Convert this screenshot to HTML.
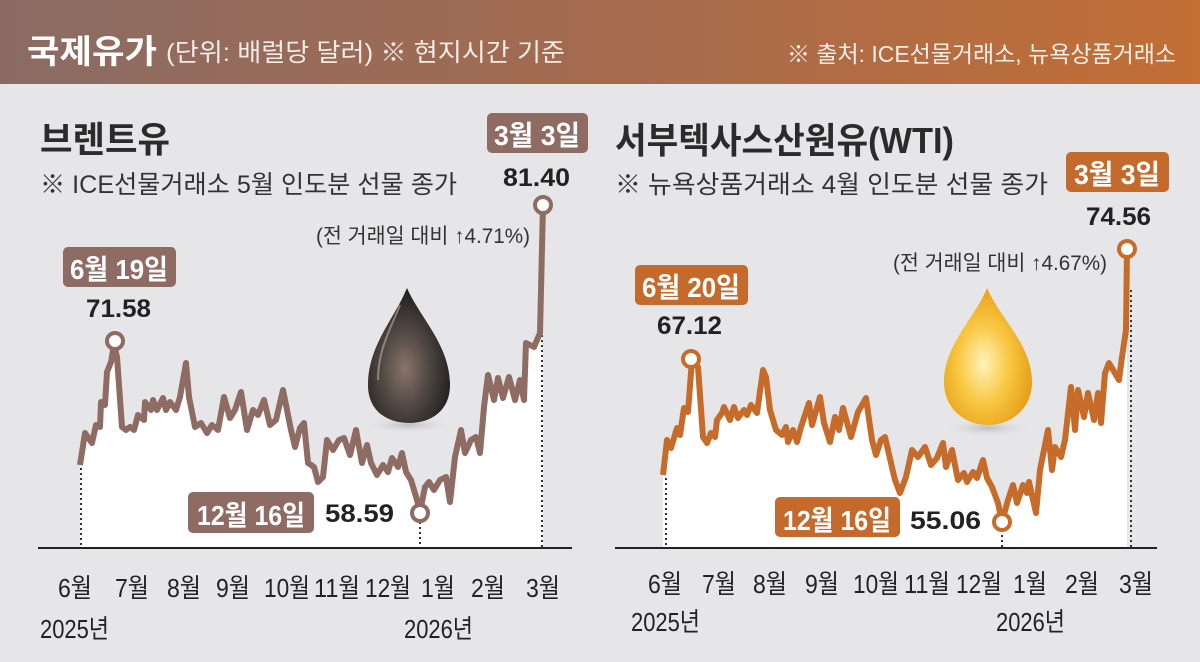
<!DOCTYPE html>
<html><head><meta charset="utf-8"><style>
html,body{margin:0;padding:0;background:#e6e6e8;}
svg{display:block;}
text{font-family:"Liberation Sans","Noto Sans CJK KR",sans-serif;}
</style></head><body>
<svg width="1200" height="662" viewBox="0 0 1200 662" xmlns="http://www.w3.org/2000/svg">
<defs>
<linearGradient id="hdr" x1="0" x2="1" y1="0" y2="0">
<stop offset="0" stop-color="#8a6b64"/><stop offset="0.5" stop-color="#a46b4f"/><stop offset="1" stop-color="#c26e35"/>
</linearGradient>
<radialGradient id="blk" cx="0.45" cy="0.6" r="0.6">
<stop offset="0" stop-color="#8a7468"/><stop offset="0.5" stop-color="#4e4642"/><stop offset="1" stop-color="#1f1d1c"/>
</radialGradient>
<radialGradient id="gld" cx="0.45" cy="0.55" r="0.6">
<stop offset="0" stop-color="#fff3b8"/><stop offset="0.5" stop-color="#f8c640"/><stop offset="1" stop-color="#e49a14"/>
</radialGradient>
<radialGradient id="shd" cx="0.5" cy="0.5" r="0.5">
<stop offset="0" stop-color="#bdbdc0"/><stop offset="1" stop-color="#e6e6e8" stop-opacity="0"/>
</radialGradient>
</defs>
<rect x="0" y="0" width="1200" height="84" fill="url(#hdr)"/>
<text x="27" y="63" font-size="33" font-weight="bold" fill="#fff" textLength="130" lengthAdjust="spacingAndGlyphs">국제유가</text>
<text x="166" y="61" font-size="25" fill="#f3ebe6" textLength="399" lengthAdjust="spacingAndGlyphs">(단위: 배럴당 달러) ※ 현지시간 기준</text>
<text x="787" y="62" font-size="23" fill="#f6eee8" textLength="389" lengthAdjust="spacingAndGlyphs">※ 출처:  ICE선물거래소, 뉴욕상품거래소</text>

<!-- LEFT -->
<text x="40" y="152" font-size="36" font-weight="bold" fill="#2b2b2b" textLength="130" lengthAdjust="spacingAndGlyphs">브렌트유</text>
<text x="40" y="193" font-size="25" fill="#333" textLength="417" lengthAdjust="spacingAndGlyphs">※ ICE선물거래소 5월 인도분 선물 종가</text>

<polygon fill="#fff" points="80,548 80,465 85,433 92,443 96,425 100,427 101,402 105,405 107,372 111,362 114,345 117,357 122,427 126,430 130,427 134,430 138,415 144,420 145,402 151,410 153,400 157,410 163,398 166,410 170,402 176,410 180,397 186,363 189,397 195,427 201,423 207,433 212,425 218,430 224,397 230,418 235,410 241,392 247,430 253,410 258,415 264,400 270,425 276,420 283,390 291,430 295,447 300,428 304,423 308,463 314,467 318,482 323,477 327,440 333,450 339,440 344,438 350,455 356,430 362,463 367,445 371,463 377,475 383,465 388,472 392,458 398,467 402,453 406,472 411,480 417,500 420,512 425,487 429,482 434,490 440,480 446,477 450,502 455,457 461,430 465,453 471,440 476,437 480,453 484,407 488,375 494,400 498,378 503,398 509,377 515,400 520,380 524,400 526,343 534,347 540,333 543,205 543,548"/>
<g stroke="#333" stroke-width="2" stroke-dasharray="2,3">
<line x1="81" y1="468" x2="81" y2="548"/><line x1="420" y1="522" x2="420" y2="548"/><line x1="542" y1="330" x2="542" y2="548"/>
</g>
<polyline fill="none" stroke="#8e6b63" stroke-width="6" stroke-linejoin="round" points="80,465 85,433 92,443 96,425 100,427 101,402 105,405 107,372 111,362 114,345 117,357 122,427 126,430 130,427 134,430 138,415 144,420 145,402 151,410 153,400 157,410 163,398 166,410 170,402 176,410 180,397 186,363 189,397 195,427 201,423 207,433 212,425 218,430 224,397 230,418 235,410 241,392 247,430 253,410 258,415 264,400 270,425 276,420 283,390 291,430 295,447 300,428 304,423 308,463 314,467 318,482 323,477 327,440 333,450 339,440 344,438 350,455 356,430 362,463 367,445 371,463 377,475 383,465 388,472 392,458 398,467 402,453 406,472 411,480 417,500 420,512 425,487 429,482 434,490 440,480 446,477 450,502 455,457 461,430 465,453 471,440 476,437 480,453 484,407 488,375 494,400 498,378 503,398 509,377 515,400 520,380 524,400 526,343 534,347 540,333 543,205"/>
<line x1="38" y1="548" x2="572" y2="548" stroke="#222" stroke-width="2"/>
<circle cx="115" cy="341" r="8" fill="#fff" stroke="#8e6b63" stroke-width="4"/>
<circle cx="420" cy="513" r="8" fill="#fff" stroke="#8e6b63" stroke-width="4"/>
<circle cx="543" cy="205" r="8" fill="#fff" stroke="#8e6b63" stroke-width="4"/>

<rect x="487" y="113" width="101" height="40" rx="5" fill="#8e6b63"/>
<text x="537" y="145" font-size="28" font-weight="bold" fill="#fff" text-anchor="middle" textLength="86" lengthAdjust="spacingAndGlyphs">3월 3일</text>
<text x="503" y="186" font-size="25" font-weight="bold" fill="#222" textLength="67" lengthAdjust="spacingAndGlyphs">81.40</text>
<text x="316" y="243" font-size="21" fill="#333" textLength="214" lengthAdjust="spacingAndGlyphs">(전 거래일 대비 ↑4.71%)</text>
<rect x="63" y="247" width="113" height="40" rx="5" fill="#8e6b63"/>
<text x="119" y="279" font-size="28" font-weight="bold" fill="#fff" text-anchor="middle" textLength="98" lengthAdjust="spacingAndGlyphs">6월 19일</text>
<text x="86" y="317" font-size="25" font-weight="bold" fill="#222" textLength="65" lengthAdjust="spacingAndGlyphs">71.58</text>
<rect x="188" y="492" width="126" height="41" rx="5" fill="#8e6b63"/>
<text x="251" y="525" font-size="28" font-weight="bold" fill="#fff" text-anchor="middle" textLength="108" lengthAdjust="spacingAndGlyphs">12월 16일</text>
<text x="325" y="522" font-size="25" font-weight="bold" fill="#222" textLength="69" lengthAdjust="spacingAndGlyphs">58.59</text>

<ellipse cx="408" cy="425" rx="45" ry="9" fill="url(#shd)"/>
<path d="M407,288 C395,318 368,345 368,385 C368,410 386,423 409,423 C432,423 450,410 450,385 C450,345 420,318 407,288 Z" fill="url(#blk)"/>
<path d="M400,305 C390,330 378,350 378,380" fill="none" stroke="#b8b0aa" stroke-width="2" opacity="0.6"/>

<g font-size="26" fill="#222" text-anchor="middle">
<text x="75" y="597" textLength="34" lengthAdjust="spacingAndGlyphs">6월</text><text x="132" y="597" textLength="34" lengthAdjust="spacingAndGlyphs">7월</text><text x="184" y="597" textLength="34" lengthAdjust="spacingAndGlyphs">8월</text><text x="233" y="597" textLength="34" lengthAdjust="spacingAndGlyphs">9월</text><text x="287" y="597" textLength="46" lengthAdjust="spacingAndGlyphs">10월</text><text x="337" y="597" textLength="46" lengthAdjust="spacingAndGlyphs">11월</text><text x="388" y="597" textLength="46" lengthAdjust="spacingAndGlyphs">12월</text><text x="438" y="597" textLength="34" lengthAdjust="spacingAndGlyphs">1월</text><text x="488" y="597" textLength="34" lengthAdjust="spacingAndGlyphs">2월</text><text x="543" y="597" textLength="34" lengthAdjust="spacingAndGlyphs">3월</text>
</g>
<text x="40" y="638" font-size="26" fill="#222" textLength="69" lengthAdjust="spacingAndGlyphs">2025년</text>
<text x="404" y="638" font-size="26" fill="#222" textLength="69" lengthAdjust="spacingAndGlyphs">2026년</text>

<!-- RIGHT -->
<text x="615" y="153" font-size="36" font-weight="bold" fill="#2b2b2b" textLength="339" lengthAdjust="spacingAndGlyphs">서부텍사스산원유(WTI)</text>
<text x="615" y="193" font-size="25" fill="#333" textLength="433" lengthAdjust="spacingAndGlyphs">※ 뉴욕상품거래소 4월 인도분 선물 종가</text>

<polygon fill="#fff" points="663,548 663,475 667,440 671,448 677,428 680,435 684,408 688,412 692,360 698,367 703,437 707,443 711,433 715,437 717,420 722,413 724,407 730,420 734,407 738,418 744,410 747,415 751,405 757,413 763,370 766,377 770,410 776,430 782,435 786,427 788,442 793,430 797,442 801,427 809,403 812,425 820,397 824,423 830,442 835,417 839,430 843,408 851,437 858,412 866,398 872,440 876,455 881,440 885,437 891,463 895,480 900,493 906,477 912,450 918,457 925,447 931,465 937,458 943,443 946,467 952,450 958,480 964,473 967,482 973,472 977,478 983,460 987,478 992,487 998,503 1002,522 1008,500 1013,485 1017,503 1023,485 1027,493 1029,482 1036,513 1040,470 1048,430 1052,470 1055,447 1061,457 1065,440 1071,387 1075,430 1078,390 1084,417 1088,393 1094,420 1098,393 1101,423 1105,373 1109,363 1119,380 1122,357 1126,330 1127,249 1127,548"/>
<g stroke="#333" stroke-width="2" stroke-dasharray="2,3">
<line x1="666" y1="478" x2="666" y2="548"/><line x1="1002" y1="530" x2="1002" y2="548"/><line x1="1131" y1="290" x2="1131" y2="548"/>
</g>
<polyline fill="none" stroke="#c76b2a" stroke-width="6" stroke-linejoin="round" points="663,475 667,440 671,448 677,428 680,435 684,408 688,412 692,360 698,367 703,437 707,443 711,433 715,437 717,420 722,413 724,407 730,420 734,407 738,418 744,410 747,415 751,405 757,413 763,370 766,377 770,410 776,430 782,435 786,427 788,442 793,430 797,442 801,427 809,403 812,425 820,397 824,423 830,442 835,417 839,430 843,408 851,437 858,412 866,398 872,440 876,455 881,440 885,437 891,463 895,480 900,493 906,477 912,450 918,457 925,447 931,465 937,458 943,443 946,467 952,450 958,480 964,473 967,482 973,472 977,478 983,460 987,478 992,487 998,503 1002,522 1008,500 1013,485 1017,503 1023,485 1027,493 1029,482 1036,513 1040,470 1048,430 1052,470 1055,447 1061,457 1065,440 1071,387 1075,430 1078,390 1084,417 1088,393 1094,420 1098,393 1101,423 1105,373 1109,363 1119,380 1122,357 1126,330 1127,249"/>
<line x1="615" y1="548" x2="1157" y2="548" stroke="#222" stroke-width="2"/>
<circle cx="691" cy="359" r="8" fill="#fff" stroke="#c76b2a" stroke-width="4"/>
<circle cx="1002" cy="522" r="8" fill="#fff" stroke="#c76b2a" stroke-width="4"/>
<circle cx="1127" cy="249" r="8" fill="#fff" stroke="#c76b2a" stroke-width="4"/>

<rect x="1066" y="152" width="103" height="40" rx="5" fill="#c36a2c"/>
<text x="1117" y="184" font-size="28" font-weight="bold" fill="#fff" text-anchor="middle" textLength="86" lengthAdjust="spacingAndGlyphs">3월 3일</text>
<text x="1086" y="225" font-size="25" font-weight="bold" fill="#222" textLength="65" lengthAdjust="spacingAndGlyphs">74.56</text>
<text x="893" y="270" font-size="21" fill="#333" textLength="214" lengthAdjust="spacingAndGlyphs">(전 거래일 대비 ↑4.67%)</text>
<rect x="635" y="265" width="113" height="40" rx="5" fill="#c36a2c"/>
<text x="691" y="297" font-size="28" font-weight="bold" fill="#fff" text-anchor="middle" textLength="98" lengthAdjust="spacingAndGlyphs">6월 20일</text>
<text x="657" y="334" font-size="25" font-weight="bold" fill="#222" textLength="65" lengthAdjust="spacingAndGlyphs">67.12</text>
<rect x="775" y="497" width="125" height="40" rx="5" fill="#c36a2c"/>
<text x="837" y="530" font-size="28" font-weight="bold" fill="#fff" text-anchor="middle" textLength="108" lengthAdjust="spacingAndGlyphs">12월 16일</text>
<text x="910" y="529" font-size="25" font-weight="bold" fill="#222" textLength="71" lengthAdjust="spacingAndGlyphs">55.06</text>

<ellipse cx="988" cy="428" rx="46" ry="9" fill="url(#shd)"/>
<path d="M987,288 C975,318 944,345 944,382 C944,408 964,425 988,425 C1012,425 1032,408 1032,382 C1032,345 1000,318 987,288 Z" fill="url(#gld)"/>

<g font-size="26" fill="#222" text-anchor="middle">
<text x="665" y="593" textLength="34" lengthAdjust="spacingAndGlyphs">6월</text><text x="719" y="593" textLength="34" lengthAdjust="spacingAndGlyphs">7월</text><text x="770" y="593" textLength="34" lengthAdjust="spacingAndGlyphs">8월</text><text x="822" y="593" textLength="34" lengthAdjust="spacingAndGlyphs">9월</text><text x="876" y="593" textLength="46" lengthAdjust="spacingAndGlyphs">10월</text><text x="927" y="593" textLength="46" lengthAdjust="spacingAndGlyphs">11월</text><text x="979" y="593" textLength="46" lengthAdjust="spacingAndGlyphs">12월</text><text x="1030" y="593" textLength="34" lengthAdjust="spacingAndGlyphs">1월</text><text x="1082" y="593" textLength="34" lengthAdjust="spacingAndGlyphs">2월</text><text x="1136" y="593" textLength="34" lengthAdjust="spacingAndGlyphs">3월</text>
</g>
<text x="631" y="631" font-size="26" fill="#222" textLength="69" lengthAdjust="spacingAndGlyphs">2025년</text>
<text x="996" y="631" font-size="26" fill="#222" textLength="69" lengthAdjust="spacingAndGlyphs">2026년</text>
</svg>
</body></html>
